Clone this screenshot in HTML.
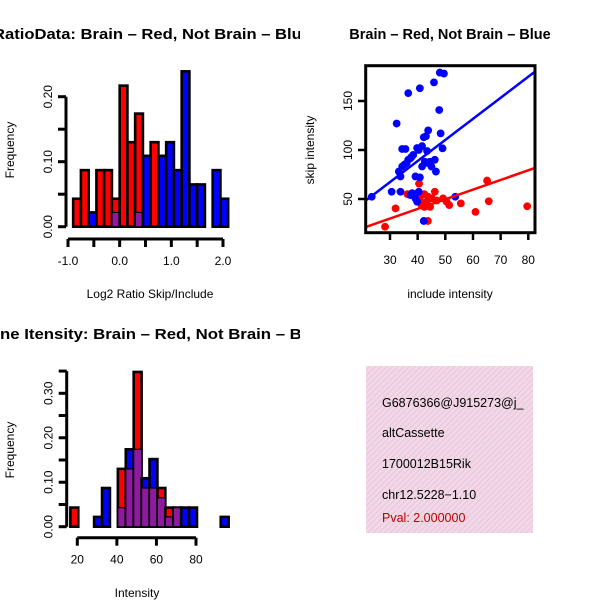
<!DOCTYPE html>
<html><head><meta charset="utf-8"><style>
html,body{margin:0;padding:0;background:#fff;}
svg{display:block;font-family:"Liberation Sans",Arial,sans-serif;}
</style></head><body>
<svg id="chart" width="600" height="600" viewBox="0 0 600 600">
<defs>
<pattern id="pinkhatch" width="4" height="4" patternUnits="userSpaceOnUse" patternTransform="rotate(45)">
<rect width="4" height="4" fill="#f6d6ee"/><rect width="1.3" height="4" fill="#e2cfd0"/>
</pattern>
<clipPath id="clipL"><rect x="0" y="0" width="300" height="600"/></clipPath>
<clipPath id="clipBox"><rect x="366" y="366" width="167" height="167"/></clipPath>
</defs>
<g id="p1"></g>
<g id="p2"></g>
<g id="p3"></g>
<g id="p4">
<rect x="366" y="366" width="167" height="167" fill="url(#pinkhatch)"/>
<g clip-path="url(#clipBox)" font-size="12.5">
<text x="382" y="407">G6876366@J915273@j_</text>
<text x="382" y="437">altCassette</text>
<text x="382" y="468">1700012B15Rik</text>
<text x="382" y="499">chr12.5228−1.10</text>
<text x="382" y="522" fill="#c00000">Pval: 2.000000</text>
</g>
</g>
</svg>
<script>
// ---- data: top-left histogram (log2 ratio) ----
const ratioBreakStart = -0.9;
const ratioBinWidth = 0.15;
const ratioRed = [0.043,0.087,0,0.087,0.087,0.043,0.217,0.13,0.174,0,0.13,0,0,0,0,0,0,0,0,0];
const ratioBlue = [0,0,0.022,0,0,0.022,0,0,0.022,0.109,0,0.109,0.13,0.087,0.239,0.065,0.065,0,0.087,0.043];
const ratioXTicks = [-1.0,-0.5,0.0,0.5,1.0,1.5,2.0];
const ratioXLabels = ["-1.0","","0.0","","1.0","","2.0"];
const ratioYTicks = [0,0.05,0.10,0.15,0.20];
const ratioYLabels = ["0.00","","0.10","","0.20"];
// ---- data: scatter ----
const blueX = [23.4,32.4,36.6,40.8,45.9,48.0,49.5,47.8,48.3,43.8,42.2,43.0,49.0,34.4,35.6,39.8,41.6,43.4,37.8,36.6,38.4,36.0,34.4,33.2,33.8,39.2,40.8,41.6,43.8,46.2,46.6,30.6,33.8,37.4,39.2,39.8,40.4,53.6,42.2,45.0,42.6,35.2,37.4,40.4,44.4,38.0];
const blueY = [52.3,127,158,163,169,179,178,140.8,117,120,113,114,101.7,101,101,102,104,99,93,90,95,86.6,83.2,78,73,73,72,83.2,86.6,90,78,57.4,57.4,54,50.6,47.2,57.4,52.3,27.6,83,88,85,91.6,100,88,56];
const redX = [28.2,32.0,36.3,40.5,42.4,43.3,44.5,42.4,43.7,46.2,49.2,51.4,55.6,43.7,60.9,65.1,65.7,79.6,41.4,45.1,46.9,50.4,40.8];
const redY = [21.7,40.4,55,65.6,55,47.2,42,42,52.4,57.4,50.6,43.8,45.5,27.6,36.9,68.8,47.7,42.6,43.6,50.6,48.5,47.5,50];
const blueFit = [2.8, 2.15];   // intercept, slope
const redFit = [0.5, 0.985];
const scatXTicks = [30,40,50,60,70,80];
const scatYTicks = [50,100,150];
// ---- data: bottom-left histogram (intensity) ----
const intBreakStart = 16.5;
const intBinWidth = 4;
const intRed = [0.043,0,0,0,0,0,0.13,0.13,0.348,0.087,0.087,0.087,0.043,0.043,0,0,0,0,0,0];
const intBlue = [0,0,0,0.022,0.087,0,0.043,0.174,0.174,0.109,0.152,0.065,0.022,0.043,0.043,0.043,0,0,0,0.022];
const intXTicks = [20,40,60,80];
const intYTicks = [0,0.05,0.10,0.15,0.20,0.25,0.30,0.35];
const intYLabels = ["0.00","","0.10","","0.20","","0.30",""];

const NS = "http://www.w3.org/2000/svg";
function mk(parent, tag, attrs, text){
  const e = document.createElementNS(NS, tag);
  for (const k in attrs) e.setAttribute(k, attrs[k]);
  if (text !== undefined) e.textContent = text;
  parent.appendChild(e);
  return e;
}
function lin(d0,d1,r0,r1){ return v => r0 + (v-d0)*(r1-r0)/(d1-d0); }

function histogram(g, cfg){
  const {sx, sy, start, bw, red, blue} = cfg;
  for (let i=0;i<red.length;i++){
    const a = start + i*bw, b = a + bw;
    const r = red[i], bl = blue[i];
    if (r<=0 && bl<=0) continue;
    const x0 = sx(a), x1 = sx(b);
    const hi = Math.max(r,bl), lo = Math.min(r,bl);
    const col = r>=bl ? "#ff0000" : "#0000ff";
    const bar = mk(g,"rect",{x:x0,y:sy(hi),width:x1-x0,height:sy(0)-sy(hi),fill:col,stroke:"#000","stroke-width":2.6});
    
    
    if (lo>0){
      const ov = mk(g,"rect",{x:x0,y:sy(lo),width:x1-x0,height:sy(0)-sy(lo),fill:"#8e1aa0",stroke:"#000","stroke-width":1.2});
      
      
    }
  }
}
function yAxis(g, x, sy, ticks, labels, lw){
  const ax = mk(g,"line",{x1:x,x2:x,y1:sy(ticks[0]),y2:sy(ticks[ticks.length-1]),stroke:"#000","stroke-width":lw});
  
  
  ticks.forEach((t,i)=>{
    mk(g,"line",{x1:x-8,x2:x,y1:sy(t),y2:sy(t),stroke:"#000","stroke-width":lw});
    if (labels[i]){
      const tx = mk(g,"text",{x:0,y:0,transform:`translate(${x-14},${sy(t)}) rotate(-90)`,"text-anchor":"middle","font-size":12},labels[i]);
      
      
    }
  });
}
function xAxis(g, y, sx, ticks, labels, lw){
  const ax = mk(g,"line",{x1:sx(ticks[0]),x2:sx(ticks[ticks.length-1]),y1:y,y2:y,stroke:"#000","stroke-width":lw});
  
  
  ticks.forEach((t,i)=>{
    mk(g,"line",{x1:sx(t),x2:sx(t),y1:y,y2:y+8,stroke:"#000","stroke-width":lw});
    if (labels[i]){
      const tx = mk(g,"text",{x:sx(t),y:y+26,"text-anchor":"middle","font-size":12},labels[i]);
      
      
    }
  });
}
function label(g,x,y,txt,rot,name,extra){
  const a = Object.assign({x:0,y:0,transform:`translate(${x},${y})`+(rot?" rotate(-90)":""),"text-anchor":"middle","font-size":12}, extra||{});
  const t = mk(g,"text",a,txt);
  
  
  return t;
}

// Panel 1
(function(){
  const g = document.getElementById("p1");
  const sx = lin(-1,2,68,223), sy = lin(0,0.2,226.7,96.7);
  histogram(g,{sx,sy,start:ratioBreakStart,bw:ratioBinWidth,red:ratioRed,blue:ratioBlue});
  yAxis(g,66,sy,ratioYTicks,ratioYLabels,3);
  xAxis(g,239,sx,ratioXTicks,ratioXLabels,3);
  label(g,150,298,"Log2 Ratio Skip/Include",false,"x-axis-title");
  label(g,14,150,"Frequency",true,"y-axis-title");
  const tg = mk(g,"g",{"clip-path":"url(#clipL)"});
  const t = mk(tg,"text",{x:-7,y:39,"font-size":14.5,"font-weight":"bold",textLength:318,lengthAdjust:"spacingAndGlyphs"},"RatioData: Brain – Red, Not Brain – Blue");
  
  
})();

// Panel 2
(function(){
  const g = document.getElementById("p2");
  const sx = lin(30,80,390,528.3), sy = lin(50,150,199,101);
  const xmin=21.2,xmax=82.4;
  redX.forEach((v,i)=>{
    const c = mk(g,"circle",{cx:sx(v),cy:sy(redY[i]),r:3.9,fill:"#ff0000"});
    
    
  });
  blueX.forEach((v,i)=>{
    const c = mk(g,"circle",{cx:sx(v),cy:sy(blueY[i]),r:3.9,fill:"#0000ff"});
    
    
  });
  const bl = mk(g,"line",{x1:sx(xmin),y1:sy(blueFit[0]+blueFit[1]*xmin),x2:sx(xmax),y2:sy(blueFit[0]+blueFit[1]*xmax),stroke:"#0000ff","stroke-width":2.5});
  
  
  const rl = mk(g,"line",{x1:sx(xmin),y1:sy(redFit[0]+redFit[1]*xmin),x2:sx(xmax),y2:sy(redFit[0]+redFit[1]*xmax),stroke:"#ff0000","stroke-width":2.5});
  
  
  const box = mk(g,"rect",{x:365.7,y:65.7,width:169.3,height:167,fill:"none",stroke:"#000","stroke-width":3});
  
  
  scatXTicks.forEach(t=>{
    mk(g,"line",{x1:sx(t),x2:sx(t),y1:232.7,y2:240,stroke:"#000","stroke-width":2.5});
    label(g,sx(t),264,String(t),false,"x-tick-label");
  });
  scatYTicks.forEach(t=>{
    mk(g,"line",{x1:358,x2:365.7,y1:sy(t),y2:sy(t),stroke:"#000","stroke-width":2.5});
    label(g,352,sy(t),String(t),true,"y-tick-label");
  });
  label(g,450,298,"include intensity",false,"x-axis-title");
  label(g,314,150,"skip intensity",true,"y-axis-title");
  const t = mk(g,"text",{x:450,y:39,"text-anchor":"middle","font-size":14.5,"font-weight":"bold"},"Brain – Red, Not Brain – Blue");
  
  
})();

// Panel 3
(function(){
  const g = document.getElementById("p3");
  const sx = lin(20,80,77.3,196), sy = lin(0,0.3,526.7,393.3);
  histogram(g,{sx,sy,start:intBreakStart,bw:intBinWidth,red:intRed,blue:intBlue});
  yAxis(g,66.7,sy,intYTicks,intYLabels,3);
  xAxis(g,537.7,sx,intXTicks,intXTicks.map(String),3);
  label(g,137,597,"Intensity",false,"x-axis-title");
  label(g,14,450,"Frequency",true,"y-axis-title");
  const tg = mk(g,"g",{"clip-path":"url(#clipL)"});
  const t = mk(tg,"text",{x:0,y:339,"font-size":14.5,"font-weight":"bold",textLength:326,lengthAdjust:"spacingAndGlyphs"},"ne Itensity: Brain – Red, Not Brain – Blue");
  
  
})();
</script>
</body></html>
